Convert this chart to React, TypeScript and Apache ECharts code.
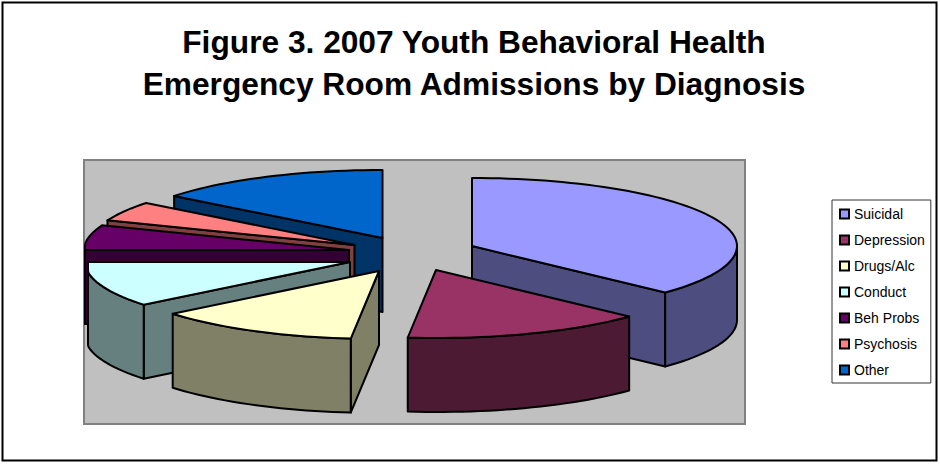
import React, { useEffect, useRef } from "react";
import * as echarts from "echarts";

const categories = ["Suicidal", "Depression", "Drugs/Alc", "Conduct", "Beh Probs", "Psychosis", "Other"];
const percentages = [37.0, 14.7, 12.5, 10.8, 5.9, 4.7, 14.4];
const titleLines = ["Figure 3. 2007 Youth Behavioral Health", "Emergency Room Admissions by Diagnosis"];

const topColors = ["#9999FF", "#993366", "#FFFFCC", "#CCFFFF", "#660066", "#FF8080", "#0066CC"];
const sideColors = ["#4D4D80", "#4D1A33", "#808066", "#668080", "#330033", "#804040", "#003366"];
// Exploded-slice apex of each slice on the page, left limit of each slice, and painter's order (back to front).
const apexes = [[472, 246], [436, 270], [379, 271], [350, 262], [349, 250], [354.5, 245], [382.5, 238]];
const leftLimits = [0, 0, 0, 88, 85, 0, 0];
const paintOrder = [6, 5, 4, 3, 2, 0, 1];
const RX = 265, RY = 68, DEPTH = 74;

const total = percentages.reduce((a, b) => a + b, 0);
const angleAt = (i: number) => (percentages.slice(0, i).reduce((a, b) => a + b, 0) / total) * 360;
const rad = (d: number) => (d * Math.PI) / 180;

function rimPoint(i: number, deg: number, dy = 0): number[] {
  const [ax, ay] = apexes[i];
  return [Math.max(leftLimits[i], ax + RX * Math.sin(rad(deg))), ay - RY * Math.cos(rad(deg)) + dy];
}

function arcAngles(a: number, b: number): number[] {
  const out: number[] = [];
  const n = Math.max(2, Math.ceil((b - a) / 2));
  for (let k = 0; k <= n; k++) out.push(a + ((b - a) * k) / n);
  return out;
}

function renderSlice(i: number) {
  const a = angleAt(i);
  const b = angleAt(i + 1);
  const [ax, ay] = apexes[i];
  const line = { stroke: "#000", lineWidth: 2, lineJoin: "round" };
  const side = { fill: sideColors[i], ...line };
  const children: any[] = [];
  const quad = (deg: number) => {
    const p = rimPoint(i, deg);
    const q = rimPoint(i, deg, DEPTH);
    children.push({ type: "polygon", shape: { points: [[ax, ay], p, q, [ax, ay + DEPTH]] }, style: side });
  };
  if (Math.sin(rad(a)) < -1e-6) quad(a);
  if (Math.sin(rad(b)) > 1e-6) quad(b);
  const from = Math.max(a, 90);
  const to = Math.min(b, 270);
  if (to > from) {
    const angs = arcAngles(from, to);
    children.push({
      type: "polygon",
      shape: { points: [...angs.map((d) => rimPoint(i, d)), ...angs.slice().reverse().map((d) => rimPoint(i, d, DEPTH))] },
      style: side,
    });
  }
  children.push({
    type: "polygon",
    shape: { points: [[ax, ay], ...arcAngles(a, b).map((d) => rimPoint(i, d))] },
    style: { fill: topColors[i], ...line },
  });
  return { type: "group", children };
}

export default function App() {
  const ref = useRef<HTMLDivElement>(null);
  useEffect(() => {
    const chart = echarts.init(ref.current!, undefined, { renderer: "svg" });
    chart.setOption({
      animation: false,
      backgroundColor: "#fff",
      title: {
        text: titleLines.join("\n"),
        left: 469,
        top: 16,
        textAlign: "center",
        textStyle: { fontFamily: "Liberation Sans", fontWeight: "bold", fontSize: 31.7, lineHeight: 42, color: "#000" },
      },
      legend: {
        orient: "vertical",
        left: 832,
        top: 200,
        padding: [7, 6, 6, 7],
        data: categories,
        icon: "rect",
        itemWidth: 9,
        itemHeight: 9,
        itemGap: 12,
        borderColor: "#333",
        borderWidth: 1,
        selectedMode: false,
        itemStyle: { borderColor: "#000", borderWidth: 2 },
        textStyle: { fontFamily: "Liberation Sans", fontSize: 14, color: "#000" },
      },
      graphic: [
        { type: "rect", z: -10, shape: { x: 2.5, y: 2.5, width: 934, height: 458 }, style: { fill: "#fff", stroke: "#000", lineWidth: 2 } },
        { type: "rect", z: -9, shape: { x: 84, y: 160, width: 661, height: 264 }, style: { fill: "#C0C0C0", stroke: "#808080", lineWidth: 2 } },
      ],
      series: categories.map((name, i) => ({
        type: "custom",
        name,
        coordinateSystem: "none",
        z: 2 + paintOrder.indexOf(i),
        silent: true,
        itemStyle: { color: topColors[i] },
        data: [percentages[i]],
        renderItem: () => renderSlice(i),
      })),
    });
    return () => chart.dispose();
  }, []);
  return <div ref={ref} style={{ position: "absolute", left: 0, top: 0, width: 940, height: 464 }} />;
}
